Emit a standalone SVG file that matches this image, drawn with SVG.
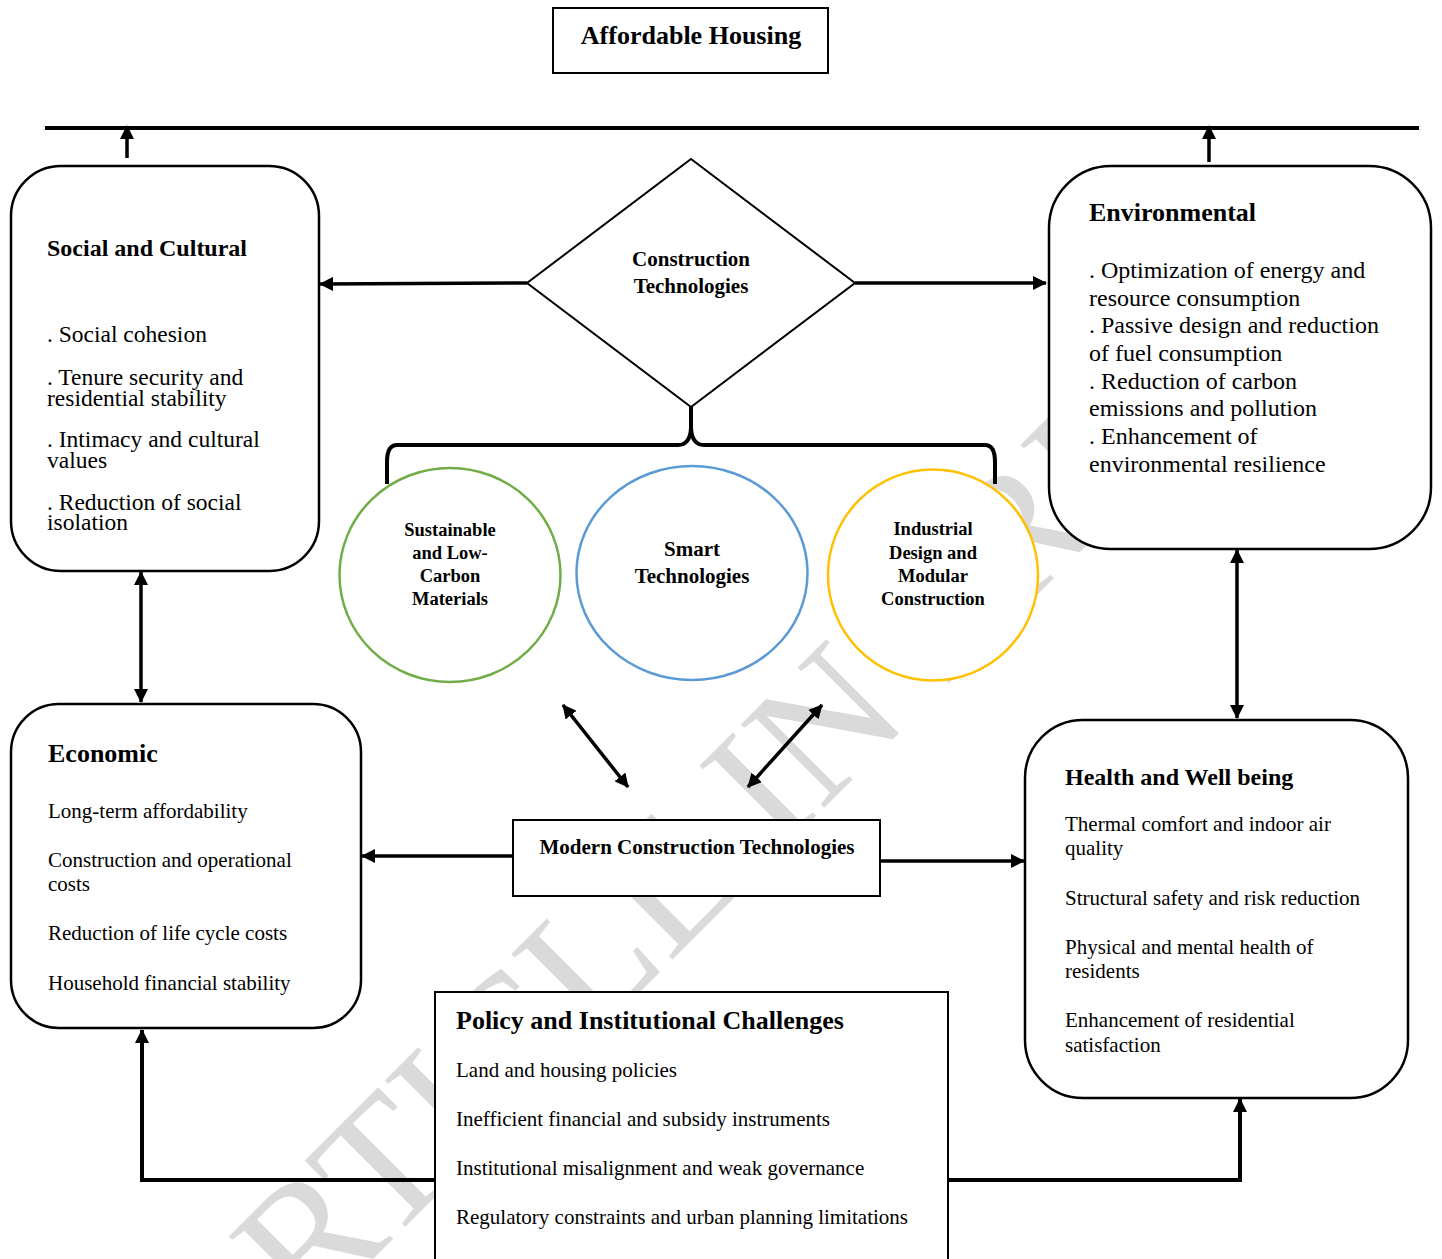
<svg xmlns="http://www.w3.org/2000/svg" width="1442" height="1259" viewBox="0 0 1442 1259">
<style>
  .bg{fill:#ffffff}
  .wm{font-family:"Liberation Serif",serif;font-size:180px;fill:#dadada}
  .box{fill:#ffffff;stroke:#000;stroke-width:2.5}
  .rbox{fill:#ffffff;stroke:#000;stroke-width:2}
  .t{font-family:"Liberation Serif","Times New Roman",serif;fill:#000}
  .b{font-weight:bold}
  .c{text-anchor:middle}
  .conn{fill:none;stroke:#000;stroke-width:3.5}
  .thick{fill:none;stroke:#000;stroke-width:4}
</style>
<defs>
  <marker id="ah" markerUnits="userSpaceOnUse" markerWidth="14" markerHeight="14" viewBox="0 0 14 14" refX="13" refY="7" orient="auto-start-reverse">
    <path d="M0,0 L14,7 L0,14 z" fill="#000"/>
  </marker>
</defs>
<rect class="bg" x="0" y="0" width="1442" height="1259"/>
<text class="wm" x="768" y="864" text-anchor="middle" transform="rotate(-45 768 864)">ARTICLE IN PRESS</text>

<g id="connectors">
  <line class="thick" x1="45" y1="128" x2="1419" y2="128"/>
  <line class="conn" x1="127" y1="158" x2="127" y2="126" marker-end="url(#ah)"/>
  <line class="conn" x1="1209" y1="162" x2="1209" y2="126" marker-end="url(#ah)"/>
  <line class="conn" x1="527" y1="283" x2="320" y2="284" marker-end="url(#ah)"/>
  <line class="conn" x1="855" y1="283" x2="1046" y2="283" marker-end="url(#ah)"/>
  <path class="thick" d="M387,484 L387,462 Q387,445 397,445 L678,445 Q690,445 691,428 L691,407 M691,428 Q692,445 704,445 L985,445 Q995,445 995,462 L995,484"/>
  <line class="conn" x1="563" y1="705" x2="628" y2="787" marker-start="url(#ah)" marker-end="url(#ah)"/>
  <line class="conn" x1="822" y1="705" x2="748" y2="787" marker-start="url(#ah)" marker-end="url(#ah)"/>
  <line class="conn" x1="513" y1="856" x2="362" y2="856" marker-end="url(#ah)"/>
  <line class="conn" x1="879" y1="861" x2="1024" y2="861" marker-end="url(#ah)"/>
  <line class="conn" x1="141" y1="572" x2="141" y2="702" marker-start="url(#ah)" marker-end="url(#ah)"/>
  <line class="conn" x1="1237" y1="550" x2="1237" y2="718" marker-start="url(#ah)" marker-end="url(#ah)"/>
  <path class="thick" d="M435,1180 L142,1180 L142,1030" marker-end="url(#ah)"/>
  <path class="thick" d="M948,1180 L1240,1180 L1240,1099" marker-end="url(#ah)"/>
</g>

<g id="title">
  <rect class="rbox" x="553" y="8" width="275" height="65"/>
  <text class="t b c" x="691" y="44" font-size="26">Affordable Housing</text>
</g>

<g id="social">
  <rect class="box" x="11" y="166" width="308" height="405" rx="50" ry="50"/>
  <text class="t b" x="47" y="256" font-size="24">Social and Cultural</text>
  <text class="t" x="47" y="342" font-size="23.5">. Social cohesion</text>
  <text class="t" x="47" y="385" font-size="23.5">. Tenure security and</text>
  <text class="t" x="47" y="406" font-size="23.5">residential stability</text>
  <text class="t" x="47" y="447" font-size="23.5">. Intimacy and cultural</text>
  <text class="t" x="47" y="468" font-size="23.5">values</text>
  <text class="t" x="47" y="510" font-size="23.5">. Reduction of social</text>
  <text class="t" x="47" y="530" font-size="23.5">isolation</text>
</g>

<g id="environmental">
  <rect class="box" x="1049" y="166" width="382" height="383" rx="62" ry="62"/>
  <text class="t b" x="1089" y="221" font-size="26">Environmental</text>
  <text class="t" x="1089" y="278" font-size="24">. Optimization of energy and</text>
  <text class="t" x="1089" y="306" font-size="24">resource consumption</text>
  <text class="t" x="1089" y="333" font-size="24">. Passive design and reduction</text>
  <text class="t" x="1089" y="361" font-size="24">of fuel consumption</text>
  <text class="t" x="1089" y="389" font-size="24">. Reduction of carbon</text>
  <text class="t" x="1089" y="416" font-size="24">emissions and pollution</text>
  <text class="t" x="1089" y="444" font-size="24">. Enhancement of</text>
  <text class="t" x="1089" y="472" font-size="24">environmental resilience</text>
</g>

<g id="construction-technologies">
  <polygon class="rbox" points="691,159 855,283 691,407 527,283"/>
  <text class="t b c" x="691" y="266" font-size="21">Construction</text>
  <text class="t b c" x="691" y="293" font-size="21">Technologies</text>
</g>

<g id="sustainable">
  <ellipse cx="450" cy="575" rx="110.5" ry="107" fill="#fff" stroke="#70ad47" stroke-width="2.5"/>
  <text class="t b c" x="450" y="536" font-size="18.5">Sustainable</text>
  <text class="t b c" x="450" y="559" font-size="18.5">and Low-</text>
  <text class="t b c" x="450" y="582" font-size="18.5">Carbon</text>
  <text class="t b c" x="450" y="605" font-size="18.5">Materials</text>
</g>

<g id="smart">
  <ellipse cx="692" cy="573" rx="115.5" ry="107" fill="#fff" stroke="#5b9bd5" stroke-width="2.5"/>
  <text class="t b c" x="692" y="556" font-size="21">Smart</text>
  <text class="t b c" x="692" y="583" font-size="21">Technologies</text>
</g>

<g id="industrial">
  <ellipse cx="933" cy="575" rx="105" ry="105.5" fill="#fff" stroke="#ffc000" stroke-width="2.5"/>
  <text class="t b c" x="933" y="535" font-size="18.5">Industrial</text>
  <text class="t b c" x="933" y="559" font-size="18.5">Design and</text>
  <text class="t b c" x="933" y="582" font-size="18.5">Modular</text>
  <text class="t b c" x="933" y="605" font-size="18.5">Construction</text>
</g>

<g id="modern">
  <rect class="rbox" x="513" y="820" width="367" height="76"/>
  <text class="t b c" x="697" y="854" font-size="21">Modern Construction Technologies</text>
</g>

<g id="economic">
  <rect class="box" x="11" y="704" width="350" height="324" rx="48" ry="48"/>
  <text class="t b" x="48" y="762" font-size="26">Economic</text>
  <text class="t" x="48" y="818" font-size="21">Long-term affordability</text>
  <text class="t" x="48" y="867" font-size="21">Construction and operational</text>
  <text class="t" x="48" y="891" font-size="21">costs</text>
  <text class="t" x="48" y="940" font-size="21">Reduction of life cycle costs</text>
  <text class="t" x="48" y="990" font-size="21">Household financial stability</text>
</g>

<g id="health">
  <rect class="box" x="1025" y="720" width="383" height="378" rx="58" ry="58"/>
  <text class="t b" x="1065" y="785" font-size="24">Health and Well being</text>
  <text class="t" x="1065" y="831" font-size="21">Thermal comfort and indoor air</text>
  <text class="t" x="1065" y="855" font-size="21">quality</text>
  <text class="t" x="1065" y="905" font-size="21">Structural safety and risk reduction</text>
  <text class="t" x="1065" y="954" font-size="21">Physical and mental health of</text>
  <text class="t" x="1065" y="978" font-size="21">residents</text>
  <text class="t" x="1065" y="1027" font-size="21">Enhancement of residential</text>
  <text class="t" x="1065" y="1052" font-size="21">satisfaction</text>
</g>

<g id="policy">
  <rect class="rbox" x="435" y="992" width="513" height="275"/>
  <text class="t b" x="456" y="1029" font-size="26">Policy and Institutional Challenges</text>
  <text class="t" x="456" y="1077" font-size="21">Land and housing policies</text>
  <text class="t" x="456" y="1126" font-size="21">Inefficient financial and subsidy instruments</text>
  <text class="t" x="456" y="1175" font-size="21">Institutional misalignment and weak governance</text>
  <text class="t" x="456" y="1224" font-size="21">Regulatory constraints and urban planning limitations</text>
</g>
</svg>
